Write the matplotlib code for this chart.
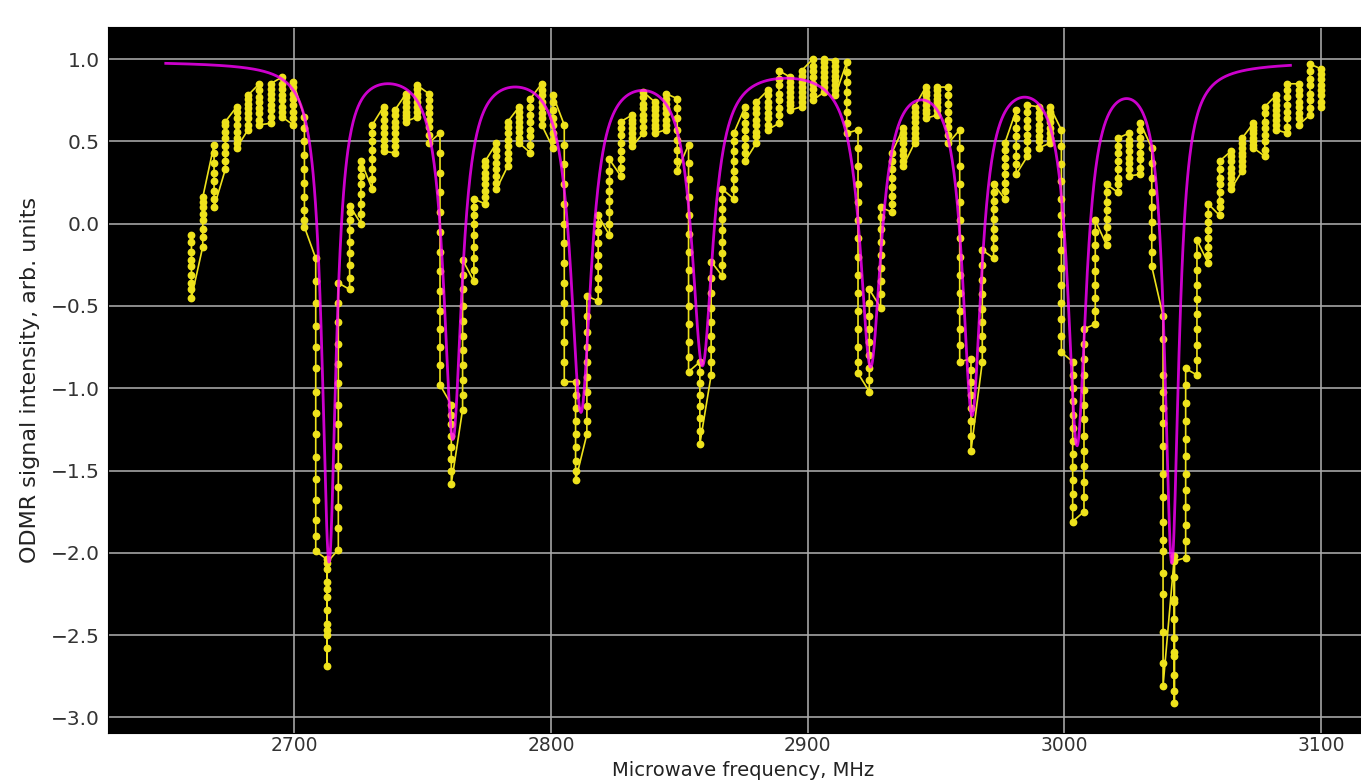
#!/usr/bin/env python3
"""
ODMR spectrum: measured signal with multi-Lorentzian fit
"""

import numpy as np
import matplotlib.pyplot as plt

# microwave sweep: 101 frequency steps, several readings per step
FREQ_START = 2660.0
FREQ_STOP = 3100.0
N_STEPS = 101

# readings at each frequency step (in the order they were recorded)
readings = [
    [-0.07, -0.11, -0.17, -0.22, -0.26, -0.31, -0.36, -0.40, -0.45],
    [-0.14, -0.08, -0.03, 0.02, 0.06, 0.10, 0.13, 0.16],
    [0.48, 0.43, 0.37, 0.31, 0.26, 0.20, 0.15, 0.10],
    [0.33, 0.38, 0.43, 0.47, 0.52, 0.56, 0.60, 0.62],
    [0.71, 0.68, 0.64, 0.60, 0.56, 0.52, 0.49, 0.46],
    [0.57, 0.60, 0.64, 0.67, 0.70, 0.73, 0.76, 0.78],
    [0.85, 0.81, 0.77, 0.74, 0.70, 0.67, 0.63, 0.60],
    [0.61, 0.65, 0.69, 0.72, 0.76, 0.79, 0.82, 0.85],
    [0.89, 0.85, 0.82, 0.78, 0.75, 0.71, 0.68, 0.65],
    [0.60, 0.64, 0.68, 0.72, 0.76, 0.79, 0.83, 0.86],
    [0.65, 0.58, 0.50, 0.42, 0.33, 0.25, 0.16, 0.08, 0.02, -0.02],
    [-0.21, -0.35, -0.48, -0.62, -0.75, -0.88, -1.02, -1.15, -1.28, -1.42, -1.55, -1.68, -1.80, -1.90, -1.99],
    [-2.04, -2.10, -2.18, -2.27, -2.35, -2.43, -2.50, -2.58, -2.69, -2.47, -2.22, -2.06],
    [-1.98, -1.85, -1.72, -1.60, -1.47, -1.35, -1.22, -1.10, -0.97, -0.85, -0.73, -0.60, -0.48, -0.36],
    [-0.40, -0.33, -0.25, -0.18, -0.11, -0.04, 0.02, 0.07, 0.11],
    [0.00, 0.06, 0.12, 0.18, 0.24, 0.29, 0.34, 0.38],
    [0.21, 0.27, 0.33, 0.39, 0.45, 0.50, 0.55, 0.60],
    [0.71, 0.67, 0.63, 0.59, 0.55, 0.51, 0.47, 0.44],
    [0.43, 0.47, 0.51, 0.55, 0.59, 0.62, 0.66, 0.69],
    [0.79, 0.77, 0.74, 0.71, 0.68, 0.66, 0.64, 0.62],
    [0.65, 0.68, 0.71, 0.74, 0.77, 0.79, 0.82, 0.84],
    [0.79, 0.75, 0.71, 0.67, 0.63, 0.59, 0.54, 0.49],
    [0.55, 0.43, 0.31, 0.19, 0.07, -0.05, -0.17, -0.29, -0.41, -0.53, -0.64, -0.75, -0.86, -0.98],
    [-1.10, -1.16, -1.22, -1.29, -1.36, -1.43, -1.50, -1.58],
    [-1.13, -1.04, -0.95, -0.86, -0.77, -0.68, -0.59, -0.50, -0.40, -0.31, -0.22],
    [-0.35, -0.28, -0.21, -0.14, -0.07, 0.00, 0.05, 0.10, 0.15],
    [0.12, 0.16, 0.20, 0.24, 0.28, 0.31, 0.35, 0.38],
    [0.49, 0.45, 0.41, 0.37, 0.33, 0.29, 0.25, 0.21],
    [0.35, 0.39, 0.43, 0.47, 0.51, 0.55, 0.59, 0.62],
    [0.71, 0.68, 0.65, 0.62, 0.59, 0.56, 0.52, 0.49],
    [0.43, 0.48, 0.53, 0.57, 0.62, 0.66, 0.71, 0.76],
    [0.85, 0.81, 0.78, 0.74, 0.71, 0.67, 0.64, 0.60],
    [0.46, 0.51, 0.55, 0.60, 0.64, 0.69, 0.74, 0.78],
    [0.60, 0.48, 0.36, 0.24, 0.12, 0.00, -0.12, -0.24, -0.36, -0.48, -0.60, -0.72, -0.84, -0.96],
    [-0.96, -1.04, -1.12, -1.20, -1.28, -1.36, -1.44, -1.50, -1.56],
    [-1.28, -1.20, -1.11, -1.02, -0.93, -0.84, -0.75, -0.66, -0.56, -0.44],
    [-0.47, -0.40, -0.33, -0.26, -0.19, -0.12, -0.05, 0.00, 0.05],
    [-0.07, 0.00, 0.07, 0.14, 0.20, 0.26, 0.32, 0.39],
    [0.29, 0.34, 0.39, 0.44, 0.49, 0.54, 0.58, 0.62],
    [0.66, 0.63, 0.61, 0.58, 0.55, 0.52, 0.50, 0.47],
    [0.55, 0.59, 0.63, 0.66, 0.70, 0.73, 0.77, 0.80],
    [0.74, 0.71, 0.69, 0.66, 0.63, 0.60, 0.58, 0.55],
    [0.57, 0.60, 0.63, 0.67, 0.70, 0.73, 0.76, 0.79],
    [0.76, 0.70, 0.64, 0.57, 0.51, 0.45, 0.38, 0.32],
    [0.48, 0.37, 0.27, 0.16, 0.05, -0.06, -0.17, -0.28, -0.39, -0.50, -0.61, -0.72, -0.81, -0.90],
    [-0.84, -0.90, -0.97, -1.04, -1.11, -1.18, -1.26, -1.34],
    [-0.92, -0.84, -0.76, -0.68, -0.60, -0.51, -0.42, -0.33, -0.23],
    [-0.32, -0.25, -0.18, -0.11, -0.04, 0.03, 0.09, 0.15, 0.21],
    [0.15, 0.21, 0.27, 0.32, 0.38, 0.44, 0.50, 0.55],
    [0.71, 0.66, 0.61, 0.57, 0.52, 0.47, 0.43, 0.38],
    [0.49, 0.53, 0.56, 0.60, 0.63, 0.67, 0.70, 0.74],
    [0.81, 0.78, 0.74, 0.71, 0.67, 0.64, 0.60, 0.57],
    [0.61, 0.66, 0.70, 0.75, 0.79, 0.84, 0.88, 0.93],
    [0.89, 0.86, 0.83, 0.80, 0.77, 0.74, 0.72, 0.69],
    [0.71, 0.74, 0.77, 0.80, 0.83, 0.86, 0.90, 0.93],
    [1.00, 0.96, 0.93, 0.89, 0.85, 0.82, 0.78, 0.75],
    [0.80, 0.83, 0.86, 0.89, 0.92, 0.95, 0.98, 1.00],
    [0.99, 0.96, 0.93, 0.90, 0.87, 0.84, 0.81, 0.78],
    [0.98, 0.92, 0.86, 0.80, 0.74, 0.68, 0.61, 0.55],
    [0.57, 0.46, 0.35, 0.24, 0.13, 0.02, -0.09, -0.20, -0.31, -0.42, -0.53, -0.64, -0.75, -0.84, -0.91],
    [-1.02, -0.95, -0.88, -0.80, -0.72, -0.64, -0.56, -0.48, -0.40],
    [-0.51, -0.43, -0.35, -0.27, -0.19, -0.11, -0.03, 0.04, 0.10],
    [0.07, 0.12, 0.17, 0.22, 0.28, 0.33, 0.38, 0.43],
    [0.58, 0.55, 0.52, 0.49, 0.45, 0.42, 0.38, 0.35],
    [0.49, 0.52, 0.55, 0.58, 0.62, 0.65, 0.68, 0.71],
    [0.83, 0.80, 0.78, 0.75, 0.72, 0.69, 0.67, 0.64],
    [0.66, 0.69, 0.71, 0.74, 0.76, 0.78, 0.81, 0.83],
    [0.83, 0.78, 0.73, 0.68, 0.63, 0.59, 0.54, 0.49],
    [0.57, 0.46, 0.35, 0.24, 0.13, 0.02, -0.09, -0.20, -0.31, -0.42, -0.53, -0.64, -0.74, -0.84],
    [-0.82, -0.89, -0.96, -1.04, -1.12, -1.20, -1.29, -1.38],
    [-0.84, -0.76, -0.68, -0.60, -0.52, -0.43, -0.34, -0.25, -0.16],
    [-0.21, -0.15, -0.09, -0.03, 0.03, 0.09, 0.14, 0.19, 0.24],
    [0.15, 0.20, 0.25, 0.30, 0.35, 0.40, 0.45, 0.49],
    [0.69, 0.64, 0.58, 0.53, 0.47, 0.41, 0.36, 0.30],
    [0.41, 0.45, 0.50, 0.54, 0.59, 0.63, 0.68, 0.72],
    [0.71, 0.67, 0.64, 0.60, 0.57, 0.53, 0.50, 0.46],
    [0.49, 0.52, 0.55, 0.58, 0.62, 0.65, 0.68, 0.71],
    [0.57, 0.47, 0.36, 0.26, 0.15, 0.05, -0.06, -0.16, -0.27, -0.37, -0.48, -0.58, -0.68, -0.78],
    [-0.84, -0.92, -1.00, -1.08, -1.16, -1.24, -1.32, -1.40, -1.48, -1.56, -1.64, -1.72, -1.81],
    [-1.75, -1.66, -1.57, -1.47, -1.38, -1.29, -1.19, -1.10, -1.01, -0.92, -0.82, -0.73, -0.64],
    [-0.61, -0.53, -0.45, -0.37, -0.29, -0.21, -0.13, -0.05, 0.02],
    [-0.13, -0.08, -0.02, 0.03, 0.08, 0.13, 0.19, 0.24],
    [0.19, 0.24, 0.28, 0.33, 0.38, 0.43, 0.47, 0.52],
    [0.55, 0.51, 0.48, 0.44, 0.40, 0.37, 0.33, 0.29],
    [0.30, 0.34, 0.39, 0.43, 0.48, 0.52, 0.57, 0.61],
    [0.46, 0.37, 0.28, 0.19, 0.10, 0.01, -0.08, -0.17, -0.26],
    [-0.56, -0.70, -0.92, -1.02, -1.12, -1.21, -1.35, -1.52, -1.66, -1.81, -1.92, -1.99, -2.12, -2.25, -2.48, -2.67, -2.81],
    [-2.02, -2.15, -2.28, -2.40, -2.52, -2.63, -2.74, -2.84, -2.91, -2.60, -2.30, -2.05],
    [-2.03, -1.93, -1.83, -1.72, -1.62, -1.52, -1.41, -1.31, -1.20, -1.09, -0.98, -0.88],
    [-0.92, -0.83, -0.74, -0.64, -0.55, -0.46, -0.37, -0.28, -0.19, -0.10],
    [-0.24, -0.19, -0.14, -0.09, -0.04, 0.01, 0.06, 0.12],
    [0.05, 0.10, 0.14, 0.19, 0.24, 0.28, 0.33, 0.38],
    [0.44, 0.41, 0.38, 0.34, 0.31, 0.28, 0.24, 0.21],
    [0.32, 0.35, 0.38, 0.41, 0.43, 0.46, 0.49, 0.52],
    [0.61, 0.59, 0.57, 0.55, 0.52, 0.50, 0.48, 0.46],
    [0.41, 0.45, 0.50, 0.54, 0.58, 0.62, 0.67, 0.71],
    [0.78, 0.75, 0.72, 0.69, 0.66, 0.63, 0.60, 0.57],
    [0.55, 0.59, 0.64, 0.68, 0.72, 0.77, 0.81, 0.85],
    [0.85, 0.81, 0.78, 0.74, 0.71, 0.67, 0.64, 0.60],
    [0.66, 0.70, 0.75, 0.79, 0.84, 0.88, 0.93, 0.97],
    [0.94, 0.91, 0.88, 0.84, 0.81, 0.78, 0.74, 0.71],
]

# fitted model: baseline minus eight Lorentzian dips
fit_baseline = 0.99
fit_centers = [2713.6, 2761.8, 2811.7, 2859.0, 2924.5, 2964.0, 3004.9, 3041.8]
fit_widths = [3.3, 4.3, 4.8, 5.0, 5.0, 4.5, 4.3, 3.3]
fit_amplitudes = [3.02, 2.26, 2.09, 1.81, 1.81, 2.09, 2.28, 3.01]
FIT_START = 2650.0
FIT_STOP = 3088.0


def lorentz_model(f):
    y = np.full_like(f, fit_baseline)
    for c, w, a in zip(fit_centers, fit_widths, fit_amplitudes):
        y -= a / (1.0 + ((f - c) / w) ** 2)
    return y


def plot_odmr():
    freqs = np.linspace(FREQ_START, FREQ_STOP, N_STEPS)
    x = np.concatenate([[f] * len(r) for f, r in zip(freqs, readings)])
    y = np.concatenate(readings)

    f_fit = np.linspace(FIT_START, FIT_STOP, 2000)
    y_fit = lorentz_model(f_fit)

    fig = plt.figure(figsize=(13.61, 7.80), dpi=100)
    ax = fig.add_axes([108 / 1361, 47 / 780, 1271 / 1361, 706 / 780])
    ax.set_facecolor('black')

    ax.plot(x, y, '-o', color='#eee21c', markersize=4.6, linewidth=1.2, zorder=2)
    ax.plot(f_fit, y_fit, color='magenta', alpha=0.8, linewidth=2.0, zorder=3)

    ax.set_xlim(2627.5, 3122.5)
    ax.set_ylim(-3.095, 1.195)
    ax.set_xticks([2700, 2800, 2900, 3000, 3100])
    ax.set_yticks([1.0, 0.5, 0.0, -0.5, -1.0, -1.5, -2.0, -2.5, -3.0])
    ax.grid(True, color='#a8a8a8', linewidth=1.3, alpha=0.9)
    ax.set_axisbelow(True)
    ax.tick_params(length=0, labelcolor='#333333')
    ax.tick_params(axis='y', pad=6, labelsize=14.5)
    ax.tick_params(axis='x', pad=2, labelsize=13.5)
    for s in ax.spines.values():
        s.set_color('black')

    ax.set_xlabel('Microwave frequency, MHz', fontsize=14, color='#222222', va='bottom')
    ax.xaxis.set_label_coords(0.5, (0.5 - 47) / 706)
    ax.set_ylabel('ODMR signal intensity, arb. units', fontsize=16, color='#222222', labelpad=8)

    fig.savefig('out.png', dpi=100, facecolor='white')
    plt.close(fig)


def main():
    plot_odmr()


if __name__ == '__main__':
    main()
